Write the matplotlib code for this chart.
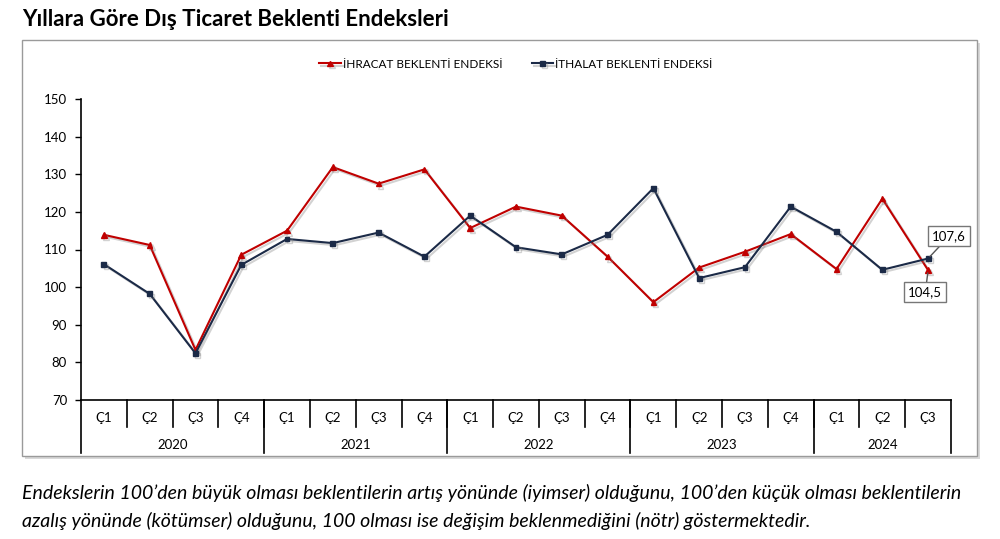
import matplotlib
matplotlib.use("Agg")
import matplotlib.pyplot as plt
import matplotlib.patheffects as pe
from matplotlib.patches import Rectangle
import matplotlib.transforms as mtransforms

plt.rcParams['font.family'] = ['Lato', 'DejaVu Sans']

years = ["2020", "2021", "2022", "2023", "2024"]
quarters_per_year = [4, 4, 4, 4, 3]
quarter_labels = ["Ç1", "Ç2", "Ç3", "Ç4"]
ihracat = [113.9, 111.2, 83.3, 108.6,
           115.0, 131.9, 127.5, 131.3,
           115.7, 121.4, 119.0, 108.1,
           96.0, 105.2, 109.4, 114.1,
           104.8, 123.5, 104.5]
ithalat = [106.1, 98.2, 82.4, 105.9,
           112.8, 111.7, 114.5, 108.1,
           119.0, 110.6, 108.7, 113.9,
           126.3, 102.4, 105.3, 121.4,
           114.7, 104.6, 107.6]
series_names = ["İHRACAT BEKLENTİ ENDEKSİ", "İTHALAT BEKLENTİ ENDEKSİ"]
yticks = [70, 80, 90, 100, 110, 120, 130, 140, 150]

RED = "#C00000"
NAVY = "#1B2A47"

fig = plt.figure(figsize=(10, 5.39), dpi=100)

# outer chart frame with shadow
fig.patches.append(Rectangle((0.025, 1 - 459/539), 0.955, (459-43)/539, transform=fig.transFigure,
                             facecolor="#d9d9d9", edgecolor="none", zorder=0))
fig.patches.append(Rectangle((0.022, 1 - 456/539), 0.955, (456-40)/539, transform=fig.transFigure,
                             facecolor="white", edgecolor="#9a9a9a", linewidth=1.0, zorder=1))

fig.text(0.022, 1 - 20/539, "Yıllara Göre Dış Ticaret Beklenti Endeksleri", fontsize=16,
         fontweight="bold", va="center", ha="left", color="black")

ax = fig.add_axes([0.081, 1 - 400/539, 0.870, (400-99)/539])
ax.set_zorder(2)
ax.patch.set_alpha(0)

labels_cat = []
for y, n in zip(years, quarters_per_year):
    labels_cat += quarter_labels[:n]
x = list(range(len(labels_cat)))

shadow = [pe.SimpleLineShadow(offset=(1.5, -1.5), shadow_color="gray", alpha=0.35), pe.Normal()]
ax.plot(x, ihracat, color=RED, lw=1.5, marker="^", ms=4, label=series_names[0],
        path_effects=shadow, zorder=3)
ax.plot(x, ithalat, color=NAVY, lw=1.5, marker="s", ms=3.5, label=series_names[1],
        path_effects=shadow, zorder=3)

ax.set_xlim(-0.5, len(x) - 0.5)
ax.set_ylim(70, 150)
ax.set_yticks(yticks)
ax.tick_params(axis="y", direction="out", length=4, width=1, labelsize=9.5, pad=6, colors="black")
ax.set_xticks([])
for s in ["top", "right"]:
    ax.spines[s].set_visible(False)
ax.spines["left"].set_linewidth(1.2)
ax.spines["bottom"].set_linewidth(1.2)

trans = mtransforms.blended_transform_factory(ax.transData, ax.transAxes)
q_bottom = -(427 - 400) / 301
y_bottom = -(453 - 400) / 301
for i, lab in enumerate(labels_cat):
    ax.text(i, -(418 - 400) / 301, lab, transform=trans, ha="center", va="center", fontsize=9.5)
# quarter separators
for i in range(1, len(x)):
    ax.plot([i - 0.5, i - 0.5], [0, q_bottom], transform=trans, color="black", lw=1.2, clip_on=False)
# year separators and labels
start = 0
bounds = [0]
for y, n in zip(years, quarters_per_year):
    ax.text(start + (n - 1) / 2, -(445 - 400) / 301, y, transform=trans, ha="center", va="center", fontsize=9.5)
    start += n
    bounds.append(start)
for b in bounds:
    ax.plot([b - 0.5, b - 0.5], [0, y_bottom], transform=trans, color="black", lw=1.2, clip_on=False)

leg = ax.legend(loc="upper center", bbox_to_anchor=(0.5, 1 + (99 - 48) / 301), ncol=2, frameon=False,
                fontsize=8.5, handlelength=1.8, handletextpad=0.2, columnspacing=2.5)

def fmt(v):
    return f"{v:.1f}".replace(".", ",")

bbox_kw = dict(boxstyle="square,pad=0.3", fc="white", ec="#777777", lw=1)
ax.annotate(fmt(ithalat[-1]), xy=(x[-1], ithalat[-1]), xytext=(15, 16), textcoords="offset points",
            ha="center", va="center", fontsize=9.5, bbox=bbox_kw,
            arrowprops=dict(arrowstyle="-", color="#555555", lw=1, shrinkA=0, shrinkB=2), zorder=5)
ax.annotate(fmt(ihracat[-1]), xy=(x[-1], ihracat[-1]), xytext=(-2, -16), textcoords="offset points",
            ha="center", va="center", fontsize=9.5, bbox=bbox_kw,
            arrowprops=dict(arrowstyle="-", color="#555555", lw=1, shrinkA=0, shrinkB=2), zorder=5)

fig.text(0.022, 1 - 493/539,
         "Endekslerin 100’den büyük olması beklentilerin artış yönünde (iyimser) olduğunu, 100’den küçük olması beklentilerin",
         fontsize=14, style="italic", va="center", ha="left")
fig.text(0.022, 1 - 521/539,
         "azalış yönünde (kötümser) olduğunu, 100 olması ise değişim beklenmediğini (nötr) göstermektedir.",
         fontsize=14, style="italic", va="center", ha="left")

fig.savefig("out.png", dpi=100)
